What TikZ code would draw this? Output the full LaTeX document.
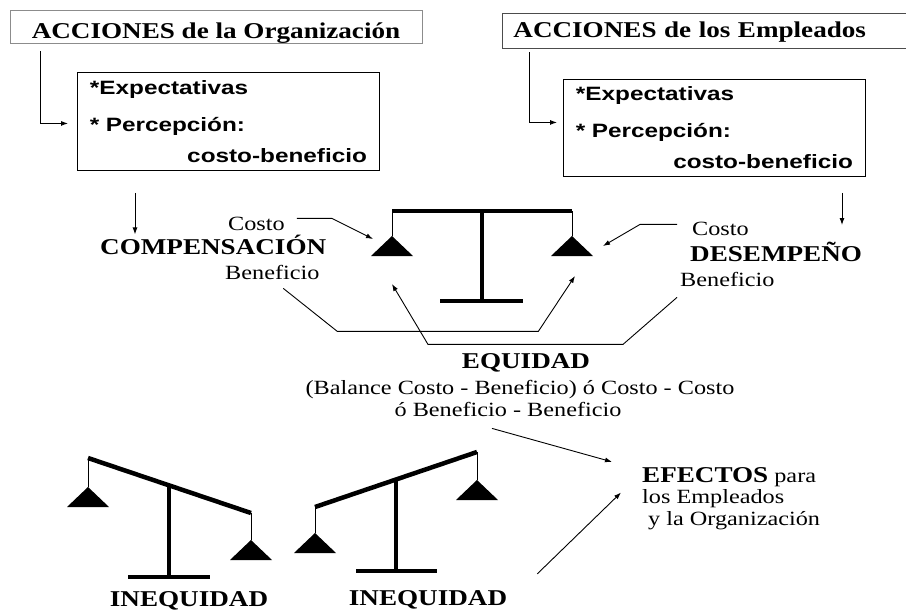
\documentclass[tikz,border=0pt]{standalone}
\usepackage{fontspec}
\setmainfont{Liberation Serif}[FakeStretch=1.2]
\newfontfamily\arialb{Liberation Sans}[FakeStretch=1.26]
\usepackage{tikz}
\usetikzlibrary{calc}
\usetikzlibrary{arrows.meta}
\usetikzlibrary{positioning}
\tikzset{>=latex}
\tikzstyle{flecha} = [-{Latex[length=7pt,width=5pt]}, line width=0.9pt]
\tikzstyle{viga} = [line width=4.5pt]
\tikzstyle{hilo} = [line width=1pt]
\tikzstyle{caja} = [rectangle, draw=black, line width=0.9pt, inner sep=0pt]
\tikzstyle{texto} = [inner sep=0pt]
\newcommand{\titulo}{\fontsize{22.6}{26}\selectfont\bfseries}
\newcommand{\normaltxt}{\fontsize{20.2}{21.5}\selectfont}
\newcommand{\cajatxt}{\arialb\fontsize{19.3}{22}\selectfont\bfseries}
\newcommand{\platillo}[2]{\fill (#1-21,#2+20) -- (#1,#2) -- (#1+21,#2+20) -- cycle;}

\begin{document}
\begin{tikzpicture}[x=1pt, y=-1pt]
\useasboundingbox (0,0) rectangle (906,611);
% acciones
\node [caja, draw=black!45, anchor=base, minimum width=412pt, text height=28pt, text depth=5pt, font=\titulo] (org) at (216,38) {ACCIONES de la Organización};
\node [caja, draw=black!70, anchor=base west, inner xsep=11pt, text width=392pt, align=left, text height=24pt, text depth=11pt, font=\titulo] (emp) at (502,37) {ACCIONES de los Empleados};
\node [caja, anchor=north west, minimum height=98pt, inner xsep=12.5pt, text width=277pt, align=left, font=\cajatxt] (exp1) at (77,72) {*Expectativas\\[15pt]* Percepción:\\[9pt]\hspace*{\fill}costo-beneficio};
\node [caja, anchor=north west, minimum height=97pt, inner xsep=12.5pt, text width=277pt, align=left, font=\cajatxt] (exp2) at (563,79) {*Expectativas\\[15pt]* Percepción:\\[9pt]\hspace*{\fill}costo-beneficio};
\draw [flecha, shorten <=8pt, shorten >=9pt] ($(org.south west)+(31,0)$) |- ($(exp1.west)+(0,2)$);
\draw [flecha, shorten <=4pt, shorten >=6pt] ($(emp.south west)+(27,0)$) |- ($(exp2.west)+(0,-5.5)$);

% compensacion / desempeno
\node [texto, anchor=base west, font=\titulo] (comp) at (100,254) {COMPENSACIÓN};
\node [texto, anchor=base west, font=\normaltxt] (costo1) at (228,230) {Costo};
\node [texto, anchor=base west, font=\normaltxt] (benef1) at (225,279) {Beneficio};
\node [texto, anchor=base west, font=\normaltxt] (costo2) at (692,235) {Costo};
\node [texto, anchor=base west, font=\titulo] (desem) at (690,261) {DESEMPEÑO};
\node [texto, anchor=base west, font=\normaltxt] (benef2) at (680,286) {Beneficio};
\coordinate (desemin) at (842,225);
\draw [flecha, shorten <=22pt] ($(exp1.south west)+(58,0)$) -- ($(comp.north west)+(35,0)$);
\draw [flecha, shorten <=16pt] (exp2.south -| desemin) -- (desemin);

% balanza
\coordinate (cL) at (373,239);
\coordinate (cR) at (603,246);
\coordinate (bL) at (392,284);
\coordinate (bR) at (575,276);
\draw [viga] (392,211) -- (572,211);
\draw [viga] (482,211) -- (482,301);
\draw [viga] (440,301) -- (523,301);
\draw [hilo] (392,211) -- (392,236);
\draw [hilo] (572,211) -- (572,236);
\platillo{392}{236}
\platillo{572}{236}
\draw [flecha] ($(costo1.east)+(12,-5)$) -- ++(35,0) -- (cL);
\draw [flecha] ($(costo2.west)+(-15,-4)$) -- ++(-37,0) -- (cR);
\draw [flecha] ($(benef1.south)+(11,9)$) -- ++(54,43) -- ++(201,0) -- (bR);
\draw [flecha] ($(benef2.south west)+(-3,11)$) -- ++(-54,47) -- ++(-195,0) -- (bL);

% equidad
\node [texto, anchor=base, font=\titulo] (equi) at (526,368) {EQUIDAD};
\node [texto, anchor=base, font=\normaltxt] (balance1) at (520,394) {(Balance Costo - Beneficio) ó Costo - Costo};
\node [texto, anchor=base, font=\normaltxt] (balance2) at (508,416) {ó Beneficio - Beneficio};
\node [texto, anchor=base west, align=left, font=\normaltxt] (efectos) at (642,525) {{\titulo EFECTOS} para\\los Empleados\\\hspace*{6pt}y la Organización};

% inequidad
\draw [viga] (88,458) -- (251,513);
\draw [viga] (169,485) -- (169,577);
\draw [viga] (128,577) -- (210,577);
\draw [hilo] (88,458) -- (88,487);
\draw [hilo] (251,513) -- (251,540);
\platillo{88}{487}
\platillo{251}{540}
\draw [viga] (315,507) -- (477,452);
\draw [viga] (396,480) -- (396,571);
\draw [viga] (356,571) -- (437,571);
\draw [hilo] (315,507) -- (315,533);
\draw [hilo] (477,452) -- (477,480);
\platillo{315}{533}
\platillo{477}{480}
\node [texto, anchor=base, font=\titulo] (ineq1) at (189,606) {INEQUIDAD};
\node [texto, anchor=base, font=\titulo] (ineq2) at (428,605) {INEQUIDAD};

\draw [flecha] ($(balance2.south)+(-16,12)$) -- ($(efectos.north west)+(-30,-5)$);
\draw [flecha] ($(ineq2.north east)+(30,-16)$) -- ($(efectos.south west)+(-21,-37)$);
\end{tikzpicture}
\end{document}
